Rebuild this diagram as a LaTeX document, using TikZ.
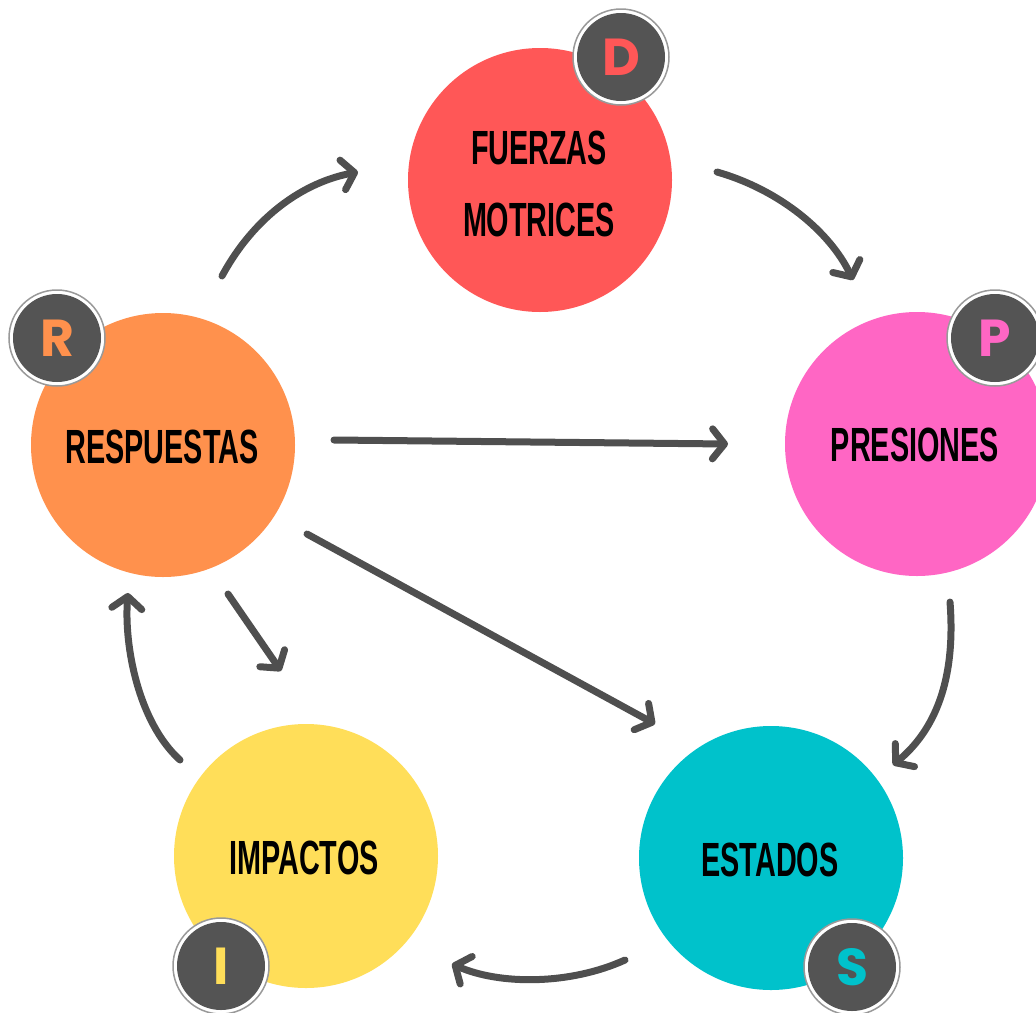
\documentclass[tikz,border=0pt]{standalone}
\usepackage{fontspec}
\setmainfont{Liberation Sans}
\newfontfamily\badgefont{Poppins}
\usetikzlibrary{arrows.meta}
\definecolor{cred}{HTML}{FF5757}
\definecolor{cpink}{HTML}{FF66C4}
\definecolor{cteal}{HTML}{00C2CB}
\definecolor{cyellow}{HTML}{FFDE59}
\definecolor{corange}{HTML}{FF914D}
\definecolor{cdark}{HTML}{545454}
\definecolor{carrow}{HTML}{4F4F4F}
\tikzset{
  bigc/.style={circle, minimum size=264pt, inner sep=0pt},
  lbl/.style={font=\fontsize{48}{58}\selectfont\bfseries, text=black, align=center, inner sep=0pt},
  badgeouter/.style={circle, minimum size=96pt, inner sep=0pt, fill=white, draw=gray!80, line width=1.5pt},
  badgeinner/.style={circle, minimum size=88pt, inner sep=0pt, fill=cdark},
  badgetext/.style={font=\badgefont\fontsize{52}{60}\selectfont\bfseries, inner sep=0pt},
  arr/.style={draw=carrow, line width=7pt, line cap=round, -{Straight Barb[length=12pt, width=30pt, round]}},
}
\newcommand{\sq}[2]{\scalebox{#1}[1]{#2}}
\begin{document}
\begin{tikzpicture}[x=1pt,y=-1pt]
\useasboundingbox (0,0) rectangle (1036,1012);
\clip (0,0) rectangle (1036,1012);
% main circles
\node[bigc, fill=cred] (D) at (540,180) {};
\node[bigc, fill=cpink] (P) at (917,444) {};
\node[bigc, fill=cteal] (S) at (771,858) {};
\node[bigc, fill=cyellow] (I) at (306,856) {};
\node[bigc, fill=corange] (R) at (163,445) {};
% labels
\node[lbl] (Dt1) at (539,148) {\sq{0.6}{FUERZAS}};
\node[lbl] (Dt2) at (539,220) {\sq{0.6}{MOTRICES}};
\node[lbl] (Pt) at (915,445) {\sq{0.6}{PRESIONES}};
\node[lbl] (Rt) at (162,447) {\sq{0.6}{RESPUESTAS}};
\node[lbl] (St) at (770,860) {\sq{0.6}{ESTADOS}};
\node[lbl] (It) at (304,858) {\sq{0.6}{IMPACTOS}};
% badges
\foreach \n/\x/\y/\l/\c in {bD/621/57/D/cred, bP/995/338/P/cpink, bR/57/338/R/corange, bI/221/966/I/cyellow, bS/852/967/S/cteal}{
  \node[badgeouter] (\n o) at (\x,\y) {};
  \node[badgeinner] (\n) at (\x,\y) {};
  \node[badgetext, text=\c] (\n t) at (\x,\y) {\l};
}
% arrow end points
\coordinate (a1s) at (222,276); \coordinate (a1e) at (358,172);
\coordinate (a2s) at (717,172); \coordinate (a2e) at (853,280);
\coordinate (a3s) at (950,602); \coordinate (a3e) at (893,765);
\coordinate (a4s) at (625,960); \coordinate (a4e) at (452,964);
\coordinate (a5s) at (180,760); \coordinate (a5e) at (128,593);
\coordinate (a6s) at (334,440); \coordinate (a6e) at (728,444);
\coordinate (a7s) at (307,534); \coordinate (a7e) at (655,724);
\coordinate (a8s) at (228,594); \coordinate (a8e) at (281,671);
\draw[arr] (a1s) .. controls (255,215) and (305,182) .. (a1e);
\draw[arr] (a2s) .. controls (780,190) and (830,232) .. (a2e);
\draw[arr] (a3s) .. controls (956,680) and (935,730) .. (a3e);
\draw[arr] (a4s) .. controls (570,985) and (500,985) .. (a4e);
\draw[arr] (a5s) .. controls (138,722) and (124,645) .. (a5e);
\draw[arr] (a6s) -- (a6e);
\draw[arr] (a7s) -- (a7e);
\draw[arr] (a8s) -- (a8e);
\end{tikzpicture}
\end{document}
